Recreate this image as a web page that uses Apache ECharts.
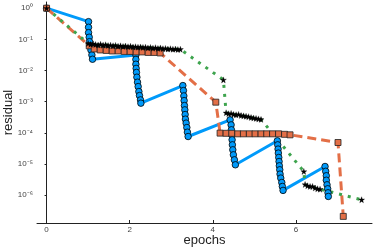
<!DOCTYPE html>
<html><head><meta charset="utf-8">
<script src="https://cdn.jsdelivr.net/npm/echarts@6/dist/echarts.min.js"></script>
<style>html,body{margin:0;padding:0;background:#fff}#c{width:374px;height:249px}</style>
</head><body><div id="c"></div>
<script>
const xTicks = [0, 2, 4, 6];
const yTicks = [1, 1e-1, 1e-2, 1e-3, 1e-4, 1e-5, 1e-6];
const yTickLabels = ['10⁰', '10⁻¹', '10⁻²', '10⁻³', '10⁻⁴', '10⁻⁵', '10⁻⁶'];

const blueX = [0, 1.01, 1.01, 1.01, 1.026, 1.034, 1.05, 1.067, 1.091, 1.106,
  2.149, 2.149, 2.149, 2.156, 2.163, 2.173, 2.188, 2.204, 2.221, 2.236, 2.26, 2.269,
  3.279, 3.293, 3.303, 3.310, 3.317, 3.327, 3.334, 3.341, 3.358, 3.375, 3.389, 3.406,
  4.416, 4.440, 4.447, 4.457, 4.464, 4.471, 4.481, 4.495, 4.519, 4.543,
  5.553, 5.562, 5.570, 5.577, 5.587, 5.594, 5.601, 5.611, 5.618, 5.635, 5.659, 5.673, 5.690,
  6.700, 6.716, 6.731, 6.731, 6.748, 6.764, 6.772, 6.779];
const blueY = [1, 3.7e-1, 2.44e-1, 1.64e-1, 1.17e-1, 8.44e-2, 6.14e-2, 4.57e-2, 3.16e-2, 2.30e-2,
  3.16e-2, 2.27e-2, 1.59e-2, 1.17e-2, 8.69e-3, 6.10e-3, 4.22e-3, 3.05e-3, 2.11e-3, 1.57e-3, 1.14e-3, 8.95e-4,
  3.28e-3, 2.27e-3, 1.53e-3, 1.08e-3, 7.50e-4, 5.46e-4, 3.86e-4, 2.75e-4, 2.05e-4, 1.48e-4, 1.05e-4, 7.61e-5,
  2.61e-4, 1.80e-4, 1.25e-4, 8.63e-5, 5.97e-5, 4.12e-5, 2.85e-5, 1.97e-5, 1.36e-5, 9.42e-6,
  5.54e-5, 4.12e-5, 3.01e-5, 2.24e-5, 1.62e-5, 1.20e-5, 8.75e-6, 6.52e-6, 4.74e-6, 3.53e-6, 2.55e-6, 1.90e-6, 1.42e-6,
  8.32e-6, 5.83e-6, 4.19e-6, 3.01e-6, 2.15e-6, 1.60e-6, 1.19e-6, 9.08e-7];

const orangeX = [0, 1.026, 1.147, 1.291, 1.435, 1.580, 1.724, 1.868, 2.012, 2.156, 2.300, 2.445, 2.589, 2.733,
  4.072,
  4.175, 4.320, 4.457, 4.601, 4.736, 4.880, 5.017, 5.161, 5.298, 5.438, 5.582, 5.726, 5.858,
  7.012, 7.139];
const orangeY = [1, 6.2e-2, 4.92e-2, 4.57e-2, 4.41e-2, 4.25e-2, 4.25e-2, 4.09e-2, 4.09e-2, 3.95e-2, 3.95e-2, 3.80e-2, 3.80e-2, 3.66e-2,
  9.64e-4,
  9.78e-5, 9.64e-5, 9.64e-5, 9.29e-5, 9.29e-5, 9.29e-5, 9.29e-5, 9.29e-5, 9.29e-5, 9.29e-5, 9.29e-5, 8.95e-5, 8.63e-5,
  4.89e-5, 2.08e-7];

const greenX = [0,
  1.00, 1.06, 1.12, 1.18, 1.24, 1.30, 1.36, 1.42, 1.48, 1.54, 1.60, 1.66, 1.72, 1.78, 1.84, 1.90, 1.96, 2.02, 2.08,
  2.14, 2.20, 2.26, 2.32, 2.38, 2.44, 2.50, 2.56, 2.62, 2.68, 2.74, 2.80, 2.86, 2.92, 2.98, 3.04, 3.10, 3.16, 3.22,
  4.255,
  4.32, 4.38, 4.44, 4.50, 4.56, 4.62, 4.68, 4.74, 4.80, 4.86, 4.92, 4.98, 5.04, 5.10, 5.16,
  6.19,
  6.22, 6.28, 6.34, 6.40, 6.46, 6.52, 6.58,
  7.58];
const greenY = [1,
  7.4e-2, 6.9e-2, 7.2e-2, 6.8e-2, 6.6e-2, 6.9e-2, 6.5e-2, 6.7e-2, 6.3e-2, 6.5e-2, 6.2e-2, 6.4e-2, 6.0e-2, 6.2e-2, 5.9e-2, 6.1e-2, 5.8e-2, 6.0e-2, 5.7e-2,
  5.8e-2, 5.6e-2, 5.7e-2, 5.5e-2, 5.6e-2, 5.3e-2, 5.5e-2, 5.2e-2, 5.4e-2, 5.1e-2, 5.3e-2, 5.0e-2, 5.1e-2, 4.9e-2, 5.0e-2, 4.8e-2, 4.9e-2, 4.7e-2, 4.8e-2,
  5.0e-3,
  4.4e-4, 4.1e-4, 4.2e-4, 3.9e-4, 3.8e-4, 3.9e-4, 3.6e-4, 3.5e-4, 3.4e-4, 3.3e-4, 3.1e-4, 3.0e-4, 2.9e-4, 2.8e-4, 2.7e-4,
  5.75e-6,
  2.2e-6, 2.0e-6, 1.9e-6, 1.9e-6, 1.7e-6, 1.6e-6, 1.55e-6,
  7.12e-7];

const zip = (xs, ys) => xs.map((x, i) => [x, ys[i]]);
const STAR = 'path://M0,-10L2.35,-3.24L9.51,-3.09L3.8,1.24L5.88,8.09L0,4L-5.88,8.09L-3.8,1.24L-9.51,-3.09L-2.35,-3.24Z';
const FONT = 'Liberation Sans';

const chart = echarts.init(document.getElementById('c'), null, {renderer: 'canvas'});
chart.setOption({
  animation: false,
  backgroundColor: '#fff',
  grid: {left: 37, right: 2, top: 2, bottom: 26, containLabel: false, outerBoundsMode: 'none'},
  xAxis: {
    type: 'value', min: -0.23, max: 7.83,
    name: 'epochs', nameLocation: 'middle', nameGap: 11, nameMoveOverlap: false,
    nameTextStyle: {fontFamily: FONT, fontSize: 13, color: '#222'},
    splitLine: {show: false},
    axisLine: {lineStyle: {color: '#222', width: 1}},
    axisTick: {inside: true, length: 3, lineStyle: {color: '#222'}, customValues: xTicks},
    axisLabel: {fontFamily: FONT, fontSize: 8, color: '#444', margin: 3, customValues: xTicks}
  },
  yAxis: {
    type: 'log', logBase: 10, min: 1.276e-7, max: 1.58,
    name: 'residual', nameLocation: 'middle', nameGap: 22, nameMoveOverlap: false,
    nameTextStyle: {fontFamily: FONT, fontSize: 13, color: '#222'},
    splitLine: {show: false},
    axisLine: {lineStyle: {color: '#222', width: 1}},
    axisTick: {length: 2, lineStyle: {color: '#222'}, customValues: yTicks},
    axisLabel: {fontFamily: FONT, fontSize: 8, color: '#444', margin: 4, customValues: yTicks,
      formatter: v => { const i = yTicks.findIndex(t => Math.abs(Math.log10(t) - Math.log10(v)) < 1e-6); return i >= 0 ? yTickLabels[i] : ''; }}
  },
  series: [
    {type: 'line', data: zip(blueX, blueY), lineStyle: {color: '#009AFA', width: 3},
     symbol: 'circle', symbolSize: 6.5, itemStyle: {color: '#009AFA', borderColor: '#000', borderWidth: 0.8}},
    {type: 'line', data: zip(orangeX, orangeY), lineStyle: {color: '#E36F47', width: 3, type: [9, 5]},
     symbol: 'rect', symbolSize: 6, itemStyle: {color: '#E36F47', borderColor: '#222', borderWidth: 0.8}},
    {type: 'line', data: zip(greenX, greenY), lineStyle: {color: '#3EA44E', width: 3, type: [3, 6]},
     symbol: STAR, symbolSize: 6, itemStyle: {color: '#000', borderColor: '#000', borderWidth: 0.3}}
  ]
});
</script></body></html>
